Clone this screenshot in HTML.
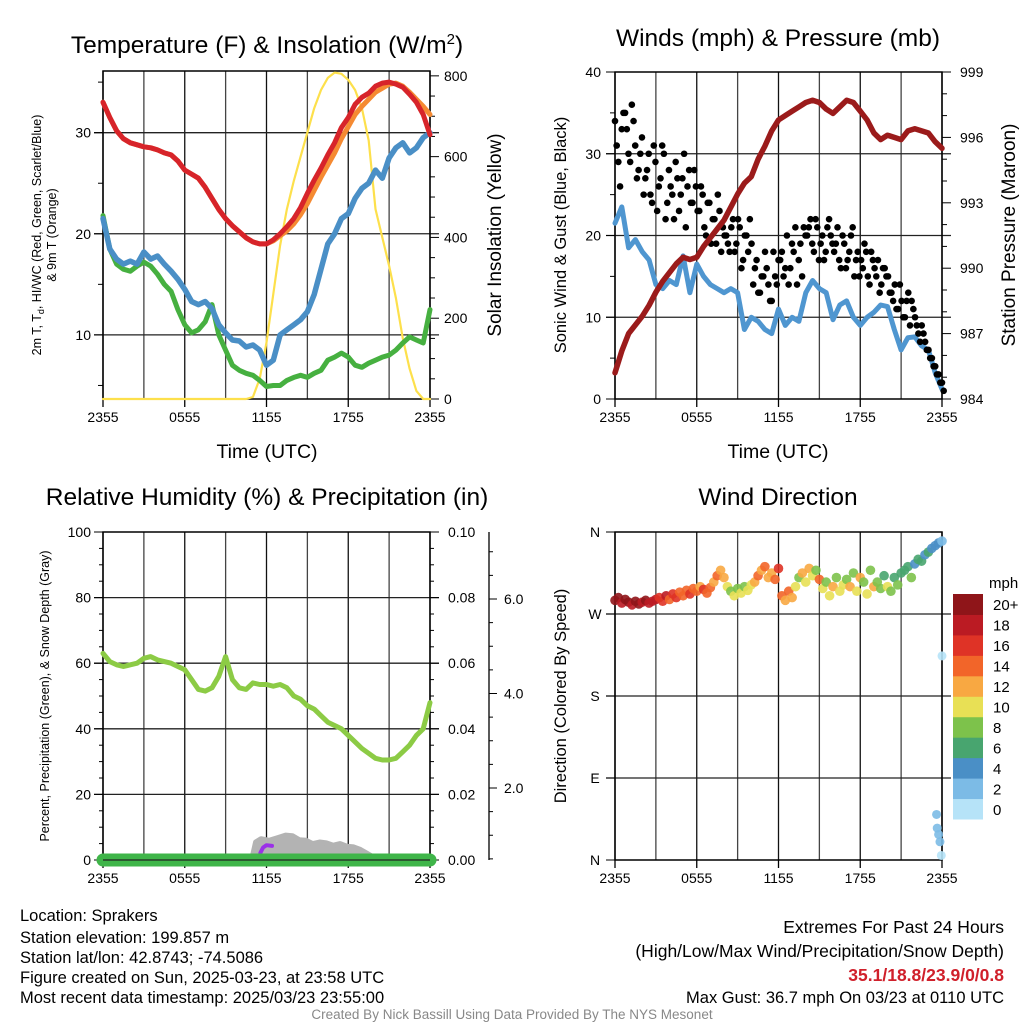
<!DOCTYPE html>
<html><head><meta charset="utf-8"><style>
html,body{margin:0;padding:0;background:#fff;}
svg{display:block;font-family:"Liberation Sans",Arial,sans-serif;}
</style></head><body>
<svg id="fig" width="1024" height="1024" viewBox="0 0 1024 1024">
<rect x="0" y="0" width="1024" height="1024" fill="#fff"/>
<g id="layer"></g>
<!-- titles -->
<text x="267" y="53" font-size="24.5" text-anchor="middle">Temperature (F) &amp; Insolation (W/m<tspan font-size="15" dy="-9">2</tspan><tspan dy="9">)</tspan></text>
<text x="778" y="46" font-size="24.5" text-anchor="middle">Winds (mph) &amp; Pressure (mb)</text>
<text x="267" y="505" font-size="24.5" text-anchor="middle">Relative Humidity (%) &amp; Precipitation (in)</text>
<text x="778" y="505" font-size="24.5" text-anchor="middle">Wind Direction</text>
<text x="267" y="458" font-size="19.5" text-anchor="middle">Time (UTC)</text>
<text x="778" y="458" font-size="19.5" text-anchor="middle">Time (UTC)</text>
<text transform="translate(41,235) rotate(-90)" font-size="12.5" text-anchor="middle">2m T, T<tspan font-size="9" dy="3">d</tspan><tspan dy="-3">, HI/WC (Red, Green, Scarlet/Blue)</tspan></text>
<text transform="translate(56,235) rotate(-90)" font-size="12.5" text-anchor="middle">&amp; 9m T (Orange)</text>
<text transform="translate(501,235) rotate(-90)" font-size="19" text-anchor="middle">Solar Insolation (Yellow)</text>
<text transform="translate(566,235) rotate(-90)" font-size="16.5" text-anchor="middle">Sonic Wind &amp; Gust (Blue, Black)</text>
<text transform="translate(1015,235) rotate(-90)" font-size="19" text-anchor="middle">Station Pressure (Maroon)</text>
<text transform="translate(49,696) rotate(-90)" font-size="12.5" text-anchor="middle">Percent, Precipitation (Green), &amp; Snow Depth (Gray)</text>
<text transform="translate(566,696) rotate(-90)" font-size="16.5" text-anchor="middle">Direction (Colored By Speed)</text>
<text x="989" y="588" font-size="15">mph</text>
<!-- info -->
<g font-size="16.5">
<text x="20" y="921">Location: Sprakers</text>
<text x="20" y="943">Station elevation: 199.857 m</text>
<text x="20" y="963">Station lat/lon: 42.8743; -74.5086</text>
<text x="20" y="983">Figure created on Sun, 2025-03-23, at 23:58 UTC</text>
<text x="20" y="1003">Most recent data timestamp: 2025/03/23 23:55:00</text>
</g>
<g font-size="17.5" text-anchor="end">
<text x="1004" y="933">Extremes For Past 24 Hours</text>
<text x="1004" y="957">(High/Low/Max Wind/Precipitation/Snow Depth)</text>
<text x="1004" y="981" fill="#d0202b" font-weight="bold">35.1/18.8/23.9/0/0.8</text>
<text x="1004" y="1003" font-size="16.5">Max Gust: 36.7 mph On 03/23 at 0110 UTC</text>
</g>
<text x="512" y="1019" font-size="13.5" fill="#888" text-anchor="middle">Created By Nick Bassill Using Data Provided By The NYS Mesonet</text>
</svg>
<script>
const xTickLabels=["2355","0555","1155","1755","2355"];
const tempTicks=[10,20,30];
const insolTicks=[0,200,400,600,800];
const windTicks=[0,10,20,30,40];
const pressTicks=[984,987,990,993,996,999];
const rhTicks=[0,20,40,60,80,100];
const precipTicks=["0.00","0.02","0.04","0.06","0.08","0.10"];
const snowTicks=[2,4,6];
const dirTicks=["N","E","S","W","N"];
const speedLabels=["0","2","4","6","8","10","12","14","16","18","20+"];
const speedColors=["#b6e3f8","#7cbbe6","#4a8fc6","#48a56f","#7dc24b","#e8e055","#f8a842","#f26529","#df3326","#bb1b23","#8f1519"];

const tempRed=[33.0,31.5,30.2,29.4,29.0,28.8,28.6,28.5,28.3,28.0,27.8,27.2,26.3,25.9,25.5,24.6,23.5,22.4,21.5,20.8,20.2,19.6,19.2,19.0,19.0,19.4,20.0,20.7,21.5,22.6,24.0,25.3,26.5,27.8,29.0,30.5,31.5,32.8,33.5,33.9,34.6,34.9,35.0,34.8,34.5,33.8,33.0,31.8,29.8];
const tempOrange=[33.0,31.5,30.2,29.4,29.0,28.8,28.6,28.5,28.3,28.0,27.8,27.2,26.3,25.9,25.5,24.6,23.5,22.4,21.5,20.8,20.2,19.6,19.2,19.0,19.0,19.3,19.8,20.3,21.0,21.9,23.0,24.3,25.6,26.8,28.0,29.4,30.6,31.8,32.6,33.3,34.0,34.4,34.8,34.9,34.6,34.0,33.3,32.6,31.8];
const windChill=[21.5,18.5,17.5,17.0,17.3,17.0,18.2,17.5,17.8,17.0,16.3,15.5,14.5,13.3,13.0,13.3,12.6,11.0,10.2,9.5,9.4,8.8,9.0,8.5,7.0,7.5,10.0,10.5,11.0,11.5,12.3,14.0,16.5,19.0,20.0,21.5,22.0,23.5,24.5,25.0,26.3,25.5,27.5,28.5,29.0,28.0,28.5,29.5,30.0];
const dewPoint=[21.8,18.5,17.0,16.5,16.3,16.8,17.2,16.8,16.0,15.0,14.3,12.5,11.0,10.2,10.5,11.3,13.0,10.0,8.5,7.0,6.5,6.2,6.0,5.5,4.9,5.0,5.0,5.5,5.8,6.0,5.8,6.2,6.5,7.5,7.8,8.2,7.8,7.0,6.8,7.2,7.5,7.8,8.0,8.5,9.2,9.8,9.5,9.2,12.5];
const insolation=[0,0,0,0,0,0,0,0,0,0,0,0,0,0,0,0,0,0,0,0,0,0,5,50,140,260,380,470,540,600,660,720,765,795,808,805,790,765,720,640,470,400,330,250,150,75,20,0,0];
const pressure=[985.2,986.2,987.0,987.4,987.8,988.3,988.9,989.4,989.8,990.2,990.5,990.4,990.5,991.0,991.4,991.8,992.2,992.8,993.4,993.9,994.2,995.0,995.6,996.3,996.8,997.0,997.2,997.4,997.6,997.7,997.6,997.3,997.1,997.4,997.7,997.6,997.2,996.8,996.2,995.9,996.1,996.0,995.9,996.3,996.4,996.3,996.2,995.8,995.5];
const sonicWind=[21.5,23.5,18.5,19.5,18.0,17.0,14.0,13.5,14.5,14.0,17.5,13.0,16.5,15.0,14.0,13.5,13.0,13.5,13.0,8.5,10.0,9.5,8.5,8.0,11.0,9.0,10.0,9.5,13.0,14.5,13.5,13.0,9.7,11.5,12.0,10.0,9.0,10.0,10.6,11.5,11.3,8.5,6.0,7.5,7.6,6.5,6.0,3.2,1.2];
const gusts=[34,29,33,35,30,36,31,28,32,27,30,24,29,26,31,22,28,25,29,23,27,21,28,24,26,23,25,20,24,22,19,23,21,20,18,22,19,21,17,20,22,14,17,13,15,16,12,18,14,17,15,20,16,18,14,19,21,20,22,18,21,19,17,21,20,18,21,16,19,17,20,15,18,17,19,15,18,16,17,14,16,15,13,14,11,12,10,13,12,10,8,9,7,6,5,4,3,2];
const gusts2=[31,26,35,33,29,34,27,30,25,28,25,31,23,27,30,24,26,22,27,25,30,26,24,28,23,26,21,24,19,22,25,18,20,19,21,18,22,16,20,18,19,16,13,15,18,14,12,15,17,18,16,14,19,21,17,15,20,21,19,22,17,20,18,22,19,19,17,20,16,18,21,17,15,16,18,14,17,15,13,16,15,13,12,11,14,10,12,9,11,9,7,8,6,5,4,3,2,1];
const relHum=[63,60.5,59.5,59,59.5,60,61.5,62,61,60.5,60,59,58,55,52,51.5,52.5,56,62,55,52.5,52,54,53.5,53.5,53,53.5,52.5,50,49,47,46,44,42,41,40,38,36,34,32.5,31,30.5,30.5,31,33,35,38,40,48];
const precip=[0,0,0,0,0,0,0,0,0,0,0,0,0,0,0,0,0,0,0,0,0,0,0,0,0,0,0,0,0,0,0,0,0,0,0,0,0,0,0,0,0,0,0,0,0,0,0,0,0];
const snowTimes=[10.9,11.2,11.6,12.2,12.8,13.4,13.9,14.4,14.9,15.4,15.9,16.4,16.9,17.4,17.9,18.4,18.9,19.4,19.8,20.2];
const snowVals=[0,5.5,6.5,6.0,6.8,7.6,7.4,6.2,6.0,5.0,5.5,5.2,4.5,5.0,4.2,4.0,3.2,2.0,1.0,0];
const purpleTimes=[11.55,11.75,12.0,12.4];
const purpleVals=[2.2,3.8,4.5,4.3];
const dirVals=[285,288,282,286,283,280,284,281,283,285,282,284,286,288,284,290,286,292,288,294,290,296,292,298,295,300,297,293,299,305,312,318,310,300,295,290,298,293,300,296,302,305,312,318,322,310,315,308,320,290,285,295,288,300,310,315,305,320,312,318,308,298,305,290,300,310,295,302,308,300,315,295,310,305,292,318,300,305,298,312,300,295,310,302,315,318,322,310,325,330,328,335,338,342,345,348,350];
const dirSpeeds=[20,21,19,20,22,19,20,21,18,20,19,18,19,17,16,18,15,17,16,15,14,15,16,14,15,13,16,14,15,13,14,12,13,10,9,11,8,10,9,11,10,13,14,12,15,13,12,14,16,14,13,15,12,11,9,13,10,12,11,9,14,10,8,11,12,9,10,11,8,12,9,10,13,8,11,9,12,8,9,7,10,8,6,9,7,7,6,8,5,6,7,5,6,5,4,4,3];
const lateTimes=[23.6,23.65,23.75,23.85,23.95,24.0];
const lateDirs=[50,35,28,20,5,224];
const lateSpeeds=[2,2,2,3,1,1];

const NS='http://www.w3.org/2000/svg';
const layer=document.getElementById('layer');
function mk(tag,attrs,parent){const e=document.createElementNS(NS,tag);for(const k in attrs)e.setAttribute(k,attrs[k]);(parent||layer).appendChild(e);return e;}
const P1={x0:103,x1:430,y0:71,y1:399},P2={x0:615,x1:942,y0:72,y1:399},P3={x0:103,x1:430,y0:532,y1:860},P4={x0:615,x1:942,y0:532,y1:860};
function xS(p,t){return p.x0+t/24*(p.x1-p.x0);}
function yS(p,v,lo,hi){return p.y1-(v-lo)/(hi-lo)*(p.y1-p.y0);}
const tempY=v=>yS(P1,v,3.66,36.1), insY=v=>yS(P1,v,0,812), windY=v=>yS(P2,v,0,40), presY=v=>yS(P2,v,984,999), rhY=v=>yS(P3,v,0,100), dirY=v=>yS(P4,v,0,360), snowAxY=v=>882.5-v*47.25;

function grid(p,hy,name){
  for(let h=0;h<=24;h+=3){const x=xS(p,h);const l=mk('line',{x1:x,x2:x,y1:p.y0,y2:p.y1,stroke:(h%6===0)?'#111':'#444','stroke-width':1.3});
    
    }
  hy.forEach(y=>{const l=mk('line',{x1:p.x0-9,x2:p.x1+9,y1:y,y2:y,stroke:'#222','stroke-width':1.3});
    
    });
  const b=mk('rect',{x:p.x0,y:p.y0,width:p.x1-p.x0,height:p.y1-p.y0,fill:'none',stroke:'#000','stroke-width':1.5});
  
  
  xTickLabels.forEach((s,i)=>{const x=xS(p,i*6);mk('line',{x1:x,x2:x,y1:p.y1,y2:p.y1+8,stroke:'#000','stroke-width':1.3});
    const t=mk('text',{x:x,y:p.y1+23,'font-size':14,'text-anchor':'middle'});t.textContent=s;
    
    });
}
function line(xs,ys,color,w,name,op){
  const d=xs.map((x,i)=>(i?'L':'M')+x.toFixed(1)+','+ys[i].toFixed(1)).join('');
  const e=mk('path',{d:d,fill:'none',stroke:color,'stroke-width':w,'stroke-linejoin':'round','stroke-linecap':'round',opacity:op||1});
  
  
  return e;}
function tIdx(arr){return arr.map((v,i)=>i*24/(arr.length-1));}
function label(x,y,s,anchor,size,name){const t=mk('text',{x:x,y:y,'font-size':size||14,'text-anchor':anchor});t.textContent=s;
  
  return t;}

// ---- Panel 1
grid(P1,tempTicks.map(tempY),'temp');
for(let v=5;v<=35;v+=5){const y=tempY(v);mk('line',{x1:P1.x0-(v%10===0?9:5),x2:P1.x0,y1:y,y2:y,stroke:'#000'});}
tempTicks.forEach(v=>label(P1.x0-12,tempY(v)+5,String(v),'end',14,'temp-y-tick-label'));
for(let v=0;v<=800;v+=50){const y=insY(v);mk('line',{x1:P1.x1,x2:P1.x1+(v%200===0?9:5),y1:y,y2:y,stroke:'#000'});}
insolTicks.forEach(v=>label(P1.x1+14,insY(v)+5,String(v),'start',14,'insolation-y-tick-label'));
const t49=tIdx(tempRed);
line(t49.map(t=>xS(P1,t)),insolation.map(insY),'#fde04c',2.2,'insolation-line');
line(t49.map(t=>xS(P1,t)),dewPoint.map(tempY),'#46b040',5,'dewpoint-line');
line(t49.map(t=>xS(P1,t)),windChill.map(tempY),'#4a8fc6',5.5,'windchill-line');
line(t49.map(t=>xS(P1,t)),tempOrange.map(tempY),'#f58a32',5,'temp-9m-line');
line(t49.map(t=>xS(P1,t)),tempRed.map(tempY),'#d7242a',5,'temp-2m-line');

// ---- Panel 2
grid(P2,[10,20,30].map(windY),'wind');
for(let v=0;v<=40;v+=5){const y=windY(v);mk('line',{x1:P2.x0-(v%10===0?9:5),x2:P2.x0,y1:y,y2:y,stroke:'#000'});}
windTicks.forEach(v=>label(P2.x0-14,windY(v)+5,String(v),'end',14,'wind-y-tick-label'));
for(let v=984;v<=999;v+=1){const y=presY(v);mk('line',{x1:P2.x1,x2:P2.x1+((v-984)%3===0?9:5),y1:y,y2:y,stroke:'#000'});}
pressTicks.forEach(v=>label(P2.x1+18,presY(v)+5,String(v),'start',14,'pressure-y-tick-label'));
line(t49.map(t=>xS(P2,t)),sonicWind.map(windY),'#4f96d0',5,'sonic-wind-line');
const tg=tIdx(gusts);
gusts.forEach((g,i)=>{const c=mk('circle',{cx:xS(P2,tg[i]),cy:windY(g),r:3.3,fill:'#000'});
  
  });
const tg2=tIdx(gusts2);
gusts2.forEach((g,i)=>{const c=mk('circle',{cx:xS(P2,tg2[i])+1.7,cy:windY(g),r:3.3,fill:'#000'});
  
  });
line(t49.map(t=>xS(P2,t)),pressure.map(presY),'#9b1b1b',5.5,'pressure-line');

// ---- Panel 3
grid(P3,[20,40,60,80].map(rhY),'rh');
for(let v=0;v<=100;v+=5){const y=rhY(v);mk('line',{x1:P3.x0-(v%20===0?9:4),x2:P3.x0,y1:y,y2:y,stroke:'#000'});
  mk('line',{x1:P3.x1,x2:P3.x1+(v%20===0?9:4),y1:y,y2:y,stroke:'#000'});}
rhTicks.forEach(v=>label(P3.x0-12,rhY(v)+5,String(v),'end',14,'rh-y-tick-label'));
precipTicks.forEach((s,i)=>label(P3.x1+18,rhY(i*20)+5,s,'start',14,'precip-y-tick-label'));
mk('line',{x1:489,x2:489,y1:532,y2:860,stroke:'#000','stroke-width':1.3});
for(let v=0.5;v<=7;v+=0.5){const y=snowAxY(v);if(y<532||y>860)continue;mk('line',{x1:489,x2:489+(v%2===0?8:4),y1:y,y2:y,stroke:'#000'});}
snowTicks.forEach(v=>label(504,snowAxY(v)+5,v.toFixed(1),'start',14,'snow-y-tick-label'));
const sp=snowTimes.map((t,i)=>xS(P3,t).toFixed(1)+','+rhY(snowVals[i]).toFixed(1)).join(' ');
const snowPoly=mk('polygon',{points:sp+' '+xS(P3,20.2)+','+rhY(0)+' '+xS(P3,10.9)+','+rhY(0),fill:'#b3b3b3',stroke:'#b3b3b3','stroke-width':5,'stroke-linejoin':'round'});


line(purpleTimes.map(t=>xS(P3,t)),purpleVals.map(rhY),'#9b30e8',4,'precip-accum-line');
line(t49.map(t=>xS(P3,t)),precip.map(v=>rhY(v*1000)),'#3fb549',13,'precipitation-line');
mk('line',{x1:P3.x0,x2:P3.x1,y1:860,y2:860,stroke:'#222','stroke-width':1.2});
line(t49.map(t=>xS(P3,t)),relHum.map(rhY),'#8ccb45',5,'relative-humidity-line');

// ---- Panel 4
grid(P4,[90,180,270].map(dirY),'dir');
dirTicks.forEach((s,i)=>{mk('line',{x1:P4.x0-9,x2:P4.x0,y1:dirY(i*90),y2:dirY(i*90),stroke:'#000'});
  label(P4.x0-20,dirY(i*90)+5,s,'middle',14,'direction-y-tick-label');});
function spColor(s){return speedColors[Math.max(0,Math.min(10,Math.floor(s/2)))];}
const td=tIdx(dirVals);
dirVals.forEach((d,i)=>{const c=mk('circle',{cx:xS(P4,td[i]),cy:dirY(d),r:4.8,fill:spColor(dirSpeeds[i]),opacity:0.9});
  
  });
lateDirs.forEach((d,i)=>{const c=mk('circle',{cx:xS(P4,lateTimes[i]),cy:dirY(d),r:4.5,fill:spColor(lateSpeeds[i]),opacity:0.9});
  
  });
// colorbar
speedColors.forEach((c,i)=>{const h=225/11;const y=819-(i+1)*h;
  const r=mk('rect',{x:953,y:y,width:30,height:h+0.5,fill:c});
  
  
  label(993,y+h/2+6,speedLabels[i],'start',15,'colorbar-label');});
</script>
</body></html>
